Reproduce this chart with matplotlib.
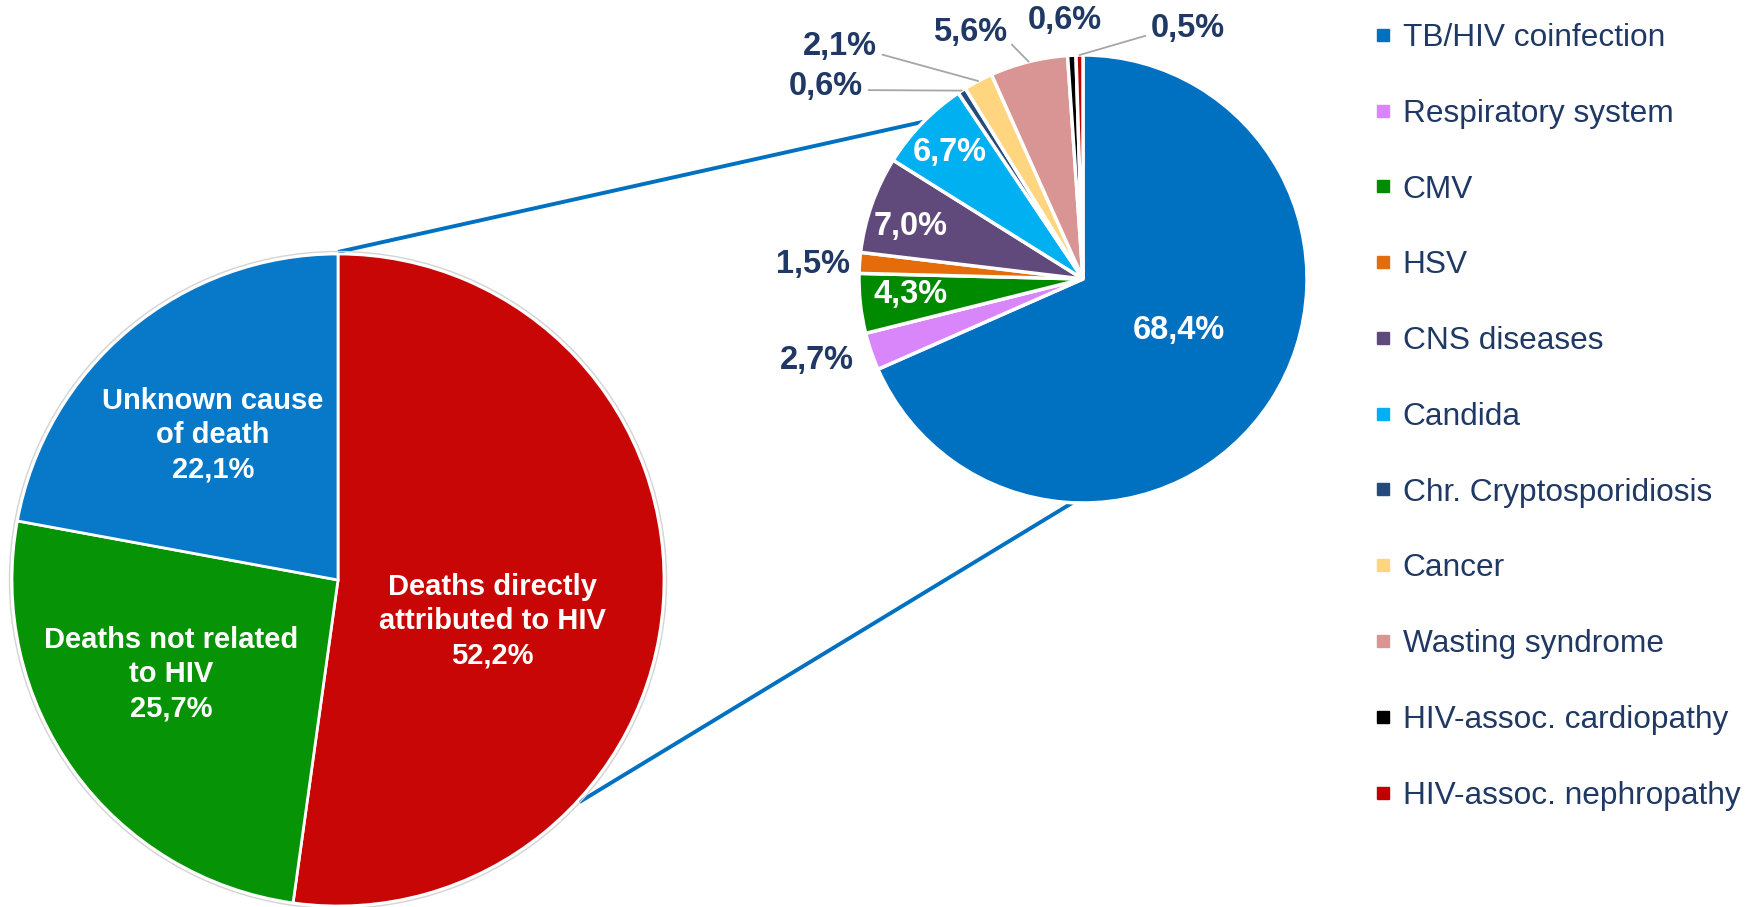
import numpy as np
import matplotlib
matplotlib.use("Agg")
import matplotlib.pyplot as plt
from matplotlib.lines import Line2D
from matplotlib.patches import Circle

plt.rcParams['font.family'] = ['Liberation Sans', 'DejaVu Sans']

W, H = 1760, 907

# overall causes of death (left pie)
main_labels = ["Deaths directly\nattributed to HIV", "Deaths not related\nto HIV", "Unknown cause\nof death"]
main_values = [52.2, 25.7, 22.1]
main_colors = ["#C90606", "#069406", "#0878C9"]

# breakdown of the deaths directly attributed to HIV (right pie)
hiv_causes = ["TB/HIV coinfection", "Respiratory system", "CMV", "HSV", "CNS diseases", "Candida",
              "Chr. Cryptosporidiosis", "Cancer", "Wasting syndrome", "HIV-assoc. cardiopathy",
              "HIV-assoc. nephropathy"]
hiv_values = [68.4, 2.7, 4.3, 1.5, 7.0, 6.7, 0.6, 2.1, 5.6, 0.6, 0.5]
hiv_colors = ["#0070C0", "#D986FA", "#008A00", "#E46C0A", "#604A7B", "#00B0F0",
              "#254B7A", "#FFD57F", "#D99594", "#000000", "#C00000"]

# layout (image pixels, y from top)
main_label_pos = [(492, 621), (171, 674), (213, 435)]
hiv_label_pos = [(1179, 330), (817, 361), (911, 294), (813, 264), (911, 227), (950, 153),
                 (826, 87), (840, 47), (970, 32), (1065, 20), (1188, 28)]
hiv_inside = [True, False, True, False, True, True, False, False, False, False, False]
hiv_leader = [None, None, None, None, None, None, (1, 0.4), (1, 0.3), (1, 0.25), None, (0, 0.3)]

NAVY = "#1F3864"


def px(x, y):
    return x, H - y


def pct(v):
    return f"{v:.1f}".replace(".", ",") + "%"


def on_circle(c, r, deg):
    a = np.radians(deg)
    return c[0] + r * np.cos(a), c[1] + r * np.sin(a)


fig = plt.figure(figsize=(17.6, 9.07), dpi=100)
ax = fig.add_axes([0, 0, 1, 1])

# left pie
lc, lr = px(338, 580), 326
ax.pie(main_values, colors=main_colors, startangle=90, counterclock=False,
       center=lc, radius=lr, wedgeprops=dict(edgecolor="white", linewidth=2))
ax.add_patch(Circle(lc, lr + 2.5, fill=False, edgecolor="#D4D4D4", linewidth=1))

for lab, v, pos in zip(main_labels, main_values, main_label_pos):
    ax.text(*px(*pos), lab + "\n" + pct(v), ha="center", va="center", color="white",
            fontsize=21, fontweight="bold", linespacing=1.28)

# right pie
rc, rr = px(1083, 279), 224
wedges, _ = ax.pie(hiv_values, colors=hiv_colors, startangle=90, counterclock=False,
                   center=rc, radius=rr, wedgeprops=dict(edgecolor="white", linewidth=2.5))

for w, v, pos, inside, lead in zip(wedges, hiv_values, hiv_label_pos, hiv_inside, hiv_leader):
    col = "white" if inside else NAVY
    if lead is None:
        ax.text(*px(*pos), pct(v), ha="center", va="center", color=col,
                fontsize=23.5, fontweight="bold")
    else:
        mid = (w.theta1 + w.theta2) / 2
        ax.annotate(pct(v), xy=on_circle(rc, rr, mid), xytext=px(*pos), textcoords="data",
                    ha="center", va="center", color=col, fontsize=23.5, fontweight="bold",
                    arrowprops=dict(arrowstyle="-", color="#A6A6A6", lw=1.3,
                                    shrinkA=2, shrinkB=0, relpos=lead))

# connector lines between the two pies
for a_left, a_right in [(90, 135.4), (-42.6, -92.7)]:
    p1 = on_circle(lc, lr + 2, a_left)
    p2 = on_circle(rc, rr, a_right)
    ax.plot([p1[0], p2[0]], [p1[1], p2[1]], color="#0070C0", lw=2.8, zorder=0,
            solid_capstyle="butt")

handles = [Line2D([], [], marker="s", linestyle="none", markersize=8.5,
                  markerfacecolor=c, markeredgecolor=c) for c in hiv_colors]
ax.legend(handles, hiv_causes, loc="upper left", bbox_to_anchor=px(1372, 23),
          bbox_transform=ax.transData, frameon=False, fontsize=22.8, labelspacing=1.445,
          handlelength=0.7, handletextpad=0.27, borderpad=0, borderaxespad=0,
          labelcolor=NAVY)

ax.set_xlim(0, W)
ax.set_ylim(0, H)
ax.set_aspect("equal")
ax.axis("off")

fig.savefig("out.png", dpi=100)
